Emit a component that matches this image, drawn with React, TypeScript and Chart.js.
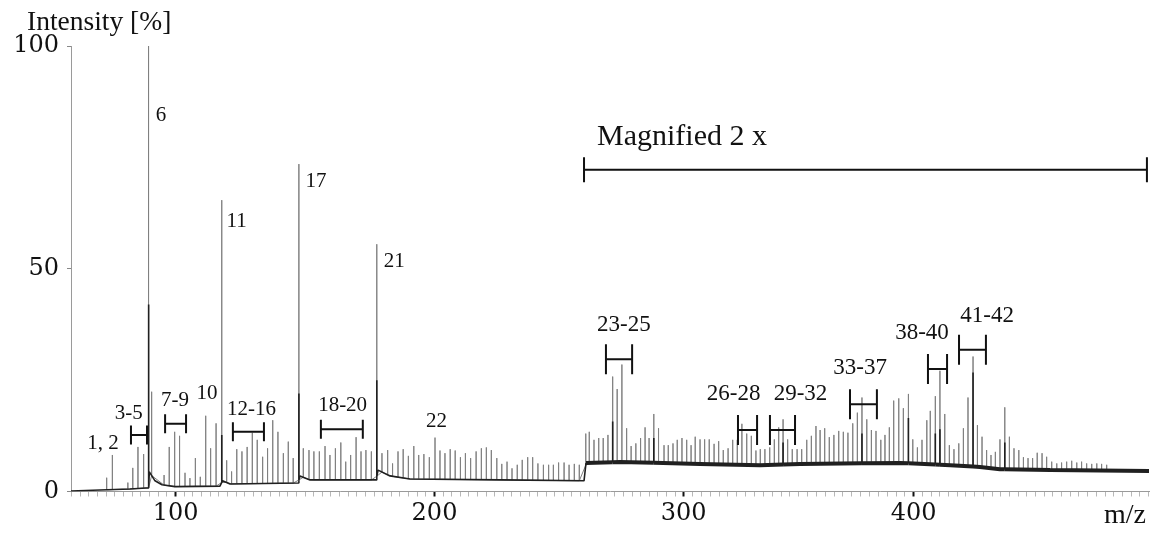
import React, { useEffect, useRef } from 'react';
import { Chart, registerables, LinearScale } from 'chart.js';

// ---------------- data ----------------
// gray spectrum: peak positions (m/z) and peak tops (%)
const PEAK_MZ = [
  73.3, 75.5, 81.5, 83.4, 85.4, 87.6, 89.5, 90.7, 95.5, 97.5, 99.6, 101.5, 103.6, 105.5, 107.6, 109.5,
  111.6, 113.5, 115.6, 117.8, 119.7, 121.6, 123.6, 125.6, 127.6, 129.6, 131.5, 133.6, 135.5, 137.5, 139.5,
  141.6, 143.5, 145.4, 147.6, 149.3, 151.5, 153.4, 155.5, 157.7, 159.6, 161.7, 163.8, 165.7, 167.6, 169.7,
  171.6, 173.5, 175.6, 177.7, 179.7, 181.9, 183.8, 185.9, 187.9, 189.9, 192.0, 193.9, 195.9, 198.0, 200.2,
  202.2, 204.2, 206.3, 208.3, 210.4, 212.4, 214.5, 216.7, 218.8, 220.8, 222.8, 225.0, 227.0, 229.1, 231.1,
  233.2, 235.2, 237.4, 239.4, 241.5, 243.7, 245.8, 247.7, 249.8, 252.0, 254.0, 256.1, 258.1,
  260.7, 262.1, 264.0, 265.9, 267.7, 269.6, 271.5, 273.3, 275.2, 277.1, 278.9, 280.8, 282.7, 284.5, 286.1,
  288.0, 289.9, 292.1, 293.8, 295.7, 297.4, 299.3, 301.3, 303.2, 305.0, 307.1, 309.1, 311.1, 313.2, 315.2,
  317.2, 319.3, 321.3, 323.3, 325.3, 327.4, 329.4, 331.4, 333.3, 335.3, 337.4, 339.4, 341.3, 343.2, 345.2,
  347.2, 349.3, 351.3, 353.5, 355.5, 357.5, 359.3, 361.3, 363.3, 365.3, 367.4, 369.4, 371.4, 373.5, 375.5,
  377.5, 379.6, 381.6, 383.6, 385.7, 387.5, 389.4, 391.3, 393.5, 395.5, 397.7, 399.6, 401.6, 403.6, 405.7,
  407.2, 409.4, 411.4, 413.5, 415.5, 417.5, 419.6, 421.6, 423.6, 425.8, 427.7, 429.7, 431.7, 433.6, 435.5,
  437.5, 439.6, 441.6, 443.6, 445.7, 447.7, 449.7, 451.7, 453.7, 455.8, 457.8, 460.0, 462.2, 464.3, 466.5,
  468.7, 470.9, 473.0, 475.2, 477.4, 479.6, 481.7, 483.9,
];
const PEAK_INTENSITY = [
  3.1, 8.2, 2.0, 5.3, 10.0, 8.4, 100, 22.4, 3.7, 10.0, 13.4, 12.5, 4.2, 3.0, 7.5, 3.3,
  17.0, 9.7, 15.3, 65.4, 7.0, 4.5, 9.5, 9.0, 10.0, 13.2, 11.6, 7.8, 9.7, 16.0, 13.4,
  8.6, 11.2, 7.5, 73.5, 9.7, 9.3, 9.0, 9.0, 10.2, 8.2, 9.7, 11.0, 6.7, 8.2, 12.2,
  9.0, 9.3, 9.0, 55.5, 8.6, 9.3, 6.3, 9.0, 9.5, 8.0, 10.2, 8.2, 8.4, 7.7, 12.1,
  9.2, 8.6, 9.5, 9.2, 7.7, 8.6, 7.5, 9.0, 9.7, 9.9, 9.3, 7.5, 6.2, 6.7, 5.2,
  6.0, 7.1, 7.7, 7.7, 6.3, 6.0, 6.0, 6.0, 6.5, 6.5, 6.0, 6.2, 6.0,
  13.0, 13.4, 11.6, 12.0, 12.0, 12.7, 25.8, 23.0, 28.5, 14.2, 10.2, 10.8, 12.0, 14.4, 12.0,
  17.4, 14.2, 10.4, 10.4, 10.8, 11.6, 12.0, 11.6, 10.4, 12.3, 11.7, 11.7, 11.7, 10.7, 11.3,
  9.3, 9.7, 11.6, 11.6, 15.2, 13.0, 12.5, 9.2, 9.5, 9.5, 9.9, 11.7, 14.4, 16.2, 11.7,
  9.5, 9.5, 9.5, 11.6, 12.5, 14.7, 13.8, 14.2, 12.2, 12.7, 13.6, 13.4, 13.2, 15.3, 17.7,
  21.1, 16.2, 13.8, 13.6, 11.6, 12.7, 14.4, 20.4, 20.9, 18.7, 21.9, 11.7, 9.9, 11.6, 16.0,
  18.1, 21.4, 27.1, 17.4, 10.4, 9.5, 10.8, 14.2, 21.1, 30.3, 14.9, 12.3, 9.3, 8.2, 8.9,
  11.7, 18.9, 12.3, 9.7, 9.3, 7.7, 7.5, 7.5, 8.7, 8.6, 7.8, 6.7, 6.3, 6.5, 6.7,
  6.9, 6.5, 6.7, 6.3, 6.2, 6.3, 6.2, 6.0,
];
// black spectrum: baseline profile and its own visible peaks
const BASELINE_MZ = [
  59.5, 70.7, 82.3, 88.5, 89.6, 89.8, 92.0, 94.7, 99.7, 117.1, 118.1, 121.0, 147.3, 148.0, 151.9, 177.4,
  178.2, 182.8, 190.5, 226.3, 260.0, 260.8, 274.4, 307.1, 333.2, 350.6, 394.1, 415.9, 428.8, 437.5, 459.3, 502.3,
];
const BASELINE_INTENSITY = [
  0.1, 0.35, 0.55, 0.8, 0.8, 4.4, 2.4, 1.5, 1.1, 1.2, 2.4, 1.7, 1.9, 3.5, 2.6, 2.6,
  4.8, 3.5, 2.8, 2.6, 2.4, 6.4, 6.6, 6.2, 5.9, 6.2, 6.4, 5.9, 5.5, 5.0, 4.8, 4.6,
];
const DARK_PEAK_MZ = [89.5, 117.8, 147.6, 177.7, 271.5, 288.0, 343.2, 377.5, 397.7, 409.4, 411.4, 425.8, 439.6];
const DARK_PEAK_INTENSITY = [42, 12.7, 22, 25, 15.7, 12, 11, 13, 16.5, 13, 14, 26.7, 11];

const X_TICK_LABELS = [100, 200, 300, 400];
const Y_TICK_VALUES = [0, 50, 100];
const X_TITLE = 'm/z';
const Y_TITLE = 'Intensity [%]';

const LABEL_TEXT = ['1, 2', '3-5', '6', '7-9', '10', '11', '12-16', '17', '18-20', '21', '22',
  '23-25', '26-28', '29-32', '33-37', '38-40', '41-42'];
const LABEL_MZ = [71.9, 81.8, 94.3, 99.7, 112.1, 123.5, 129.3, 154.2, 164.5, 184.4, 200.8,
  276.0, 321.7, 350.8, 376.7, 403.6, 431.9];
const LABEL_INTENSITY = [10.8, 17.5, 84.5, 20.5, 21.9, 60.7, 18.3, 69.5, 19.4, 51.7, 15.7,
  37.4, 22.0, 21.8, 27.8, 35.5, 39.5];

const BRACKET_FROM_MZ = [82.7, 95.9, 122.1, 156.1, 268.8, 323.6, 337.5, 372.3, 406.2, 419.7];
const BRACKET_TO_MZ = [88.9, 104.0, 134.1, 172.3, 279.3, 331.9, 348.4, 384.0, 414.5, 431.4];
const BRACKET_INTENSITY = [12.7, 15.2, 13.4, 14.0, 29.7, 13.8, 13.8, 19.6, 27.5, 31.8];

const MAGNIFIED_TEXT = 'Magnified 2 x';
const MAGNIFIED_FROM_MZ = 260.0;
const MAGNIFIED_TO_MZ = 501.4;
const MAGNIFIED_INTENSITY = 72.2;
const MAGNIFIED_TEXT_MZ = 265.2;
const MAGNIFIED_TEXT_INTENSITY = 79.6;

// ---------------- the figure's x axis is piecewise linear ----------------
const AXIS_BREAK_VALUES = [59.5, 100, 200, 300, 400, 502.3];
const AXIS_BREAK_FRACTIONS = [0, 0.09712, 0.3372, 0.56837, 0.78173, 1];
const MINOR_TICK_FRACTION = 0.00807;

function valueToFraction(v: number): number {
  const V = AXIS_BREAK_VALUES, F = AXIS_BREAK_FRACTIONS;
  let i = 0;
  while (i < V.length - 2 && v > V[i + 1]) i++;
  return F[i] + ((v - V[i]) * (F[i + 1] - F[i])) / (V[i + 1] - V[i]);
}
function fractionToValue(f: number): number {
  const V = AXIS_BREAK_VALUES, F = AXIS_BREAK_FRACTIONS;
  let i = 0;
  while (i < F.length - 2 && f > F[i + 1]) i++;
  return V[i] + ((f - F[i]) * (V[i + 1] - V[i])) / (F[i + 1] - F[i]);
}

class BrokenLinearScale extends LinearScale {
  static id = 'brokenLinear';
  static defaults = {};
  getPixelForValue(value: any) {
    if (value === null || value === undefined || isNaN(value)) return NaN;
    return this.getPixelForDecimal(valueToFraction(value));
  }
  getValueForPixel(pixel: number) {
    return fractionToValue(this.getDecimalForPixel(pixel));
  }
}

Chart.register(...registerables, BrokenLinearScale as any);

function baselineAt(mz: number): number {
  const M = BASELINE_MZ, B = BASELINE_INTENSITY;
  if (mz <= M[0]) return B[0];
  for (let i = 0; i < M.length - 1; i++) {
    if (mz <= M[i + 1]) return B[i] + ((mz - M[i]) * (B[i + 1] - B[i])) / (M[i + 1] - M[i]);
  }
  return B[B.length - 1];
}

function buildTicks() {
  const F = AXIS_BREAK_FRACTIONS;
  const majorF = X_TICK_LABELS.map(valueToFraction);
  const out: { value: number; major: boolean }[] = [];
  for (let f = majorF[0] - MINOR_TICK_FRACTION; f >= F[0] - 1e-6; f -= MINOR_TICK_FRACTION) {
    out.push({ value: fractionToValue(f), major: false });
  }
  for (let k = 0; k < majorF.length; k++) {
    out.push({ value: X_TICK_LABELS[k], major: true });
    if (k < majorF.length - 1) {
      const n = Math.round((majorF[k + 1] - majorF[k]) / MINOR_TICK_FRACTION);
      for (let j = 1; j < n; j++) {
        out.push({ value: fractionToValue(majorF[k] + ((majorF[k + 1] - majorF[k]) * j) / n), major: false });
      }
    }
  }
  for (let f = majorF[majorF.length - 1] + MINOR_TICK_FRACTION; f <= 1 + 1e-6; f += MINOR_TICK_FRACTION) {
    out.push({ value: fractionToValue(f), major: false });
  }
  out.sort((a, b) => a.value - b.value);
  return out;
}

function drawBracket(ctx: CanvasRenderingContext2D, x0: number, x1: number, y: number, half: number) {
  ctx.beginPath();
  ctx.moveTo(x0, y - half);
  ctx.lineTo(x0, y + half);
  ctx.moveTo(x0, y);
  ctx.lineTo(x1, y);
  ctx.moveTo(x1, y - half);
  ctx.lineTo(x1, y + half);
  ctx.stroke();
}

const annotationPlugin = {
  id: 'spectrumAnnotations',
  afterDraw(chart: any) {
    const { ctx, chartArea } = chart;
    const xs = chart.scales.x;
    const ys = chart.scales.y;
    ctx.save();
    ctx.fillStyle = '#111';
    ctx.strokeStyle = '#111';
    ctx.textAlign = 'center';
    ctx.textBaseline = 'middle';
    LABEL_TEXT.forEach((t, i) => {
      const size = LABEL_MZ[i] > 260 ? 23 : 21;
      ctx.font = `${size}px "Liberation Serif", serif`;
      ctx.fillText(t, xs.getPixelForValue(LABEL_MZ[i]), ys.getPixelForValue(LABEL_INTENSITY[i]));
    });
    ctx.lineWidth = 2;
    BRACKET_FROM_MZ.forEach((f, i) => {
      drawBracket(ctx, xs.getPixelForValue(f), xs.getPixelForValue(BRACKET_TO_MZ[i]),
        ys.getPixelForValue(BRACKET_INTENSITY[i]), f > 260 ? 15 : 9.5);
    });
    drawBracket(ctx, xs.getPixelForValue(MAGNIFIED_FROM_MZ), xs.getPixelForValue(MAGNIFIED_TO_MZ),
      ys.getPixelForValue(MAGNIFIED_INTENSITY), 12.5);
    ctx.textAlign = 'left';
    ctx.font = '30px "Liberation Serif", serif';
    ctx.fillText(MAGNIFIED_TEXT, xs.getPixelForValue(MAGNIFIED_TEXT_MZ), ys.getPixelForValue(MAGNIFIED_TEXT_INTENSITY));
    ctx.font = '27.5px "Liberation Serif", serif';
    ctx.fillText(Y_TITLE, chartArea.left - 44, chartArea.top - 23);
    ctx.textAlign = 'right';
    ctx.textBaseline = 'alphabetic';
    ctx.font = '28px "Liberation Serif", serif';
    ctx.fillText(X_TITLE, chartArea.right - 3, chartArea.bottom + 31);
    ctx.restore();
  },
};

export default function App() {
  const canvasRef = useRef<HTMLCanvasElement | null>(null);

  useEffect(() => {
    if (!canvasRef.current) return;

    const grayPoints: { x: number; y: number }[] = [];
    PEAK_MZ.forEach((m, i) => {
      const b = baselineAt(m);
      grayPoints.push({ x: m, y: b }, { x: m, y: PEAK_INTENSITY[i] }, { x: m, y: b });
    });

    const blackPoints: { x: number; y: number }[] = BASELINE_MZ.map((m, i) => ({ x: m, y: BASELINE_INTENSITY[i] }));
    DARK_PEAK_MZ.forEach((m, i) => {
      const b = baselineAt(m);
      blackPoints.push({ x: m, y: b }, { x: m, y: DARK_PEAK_INTENSITY[i] }, { x: m, y: b });
    });
    blackPoints.sort((a, b) => a.x - b.x);

    const chart = new Chart(canvasRef.current, {
      type: 'line',
      data: {
        datasets: [
          {
            data: blackPoints,
            borderColor: '#202020',
            borderWidth: 1.6,
            borderJoinStyle: 'bevel',
            pointRadius: 0,
            tension: 0,
            segment: {
              borderWidth: (c: any) =>
                c.p0.parsed.x >= 260.5 && c.p0.parsed.x !== c.p1.parsed.x ? 4 : 1.6,
            },
          } as any,
          {
            data: grayPoints,
            borderColor: '#808080',
            borderWidth: 1,
            borderJoinStyle: 'bevel',
            pointRadius: 0,
            tension: 0,
          },
        ],
      },
      options: {
        animation: false,
        responsive: false,
        maintainAspectRatio: false,
        devicePixelRatio: 1,
        layout: { padding: { top: 46, right: 5, left: 0, bottom: 0 } },
        plugins: { legend: { display: false }, tooltip: { enabled: false } },
        events: [],
        scales: {
          x: {
            type: 'brokenLinear' as any,
            min: AXIS_BREAK_VALUES[0],
            max: AXIS_BREAK_VALUES[AXIS_BREAK_VALUES.length - 1],
            afterBuildTicks: (scale: any) => {
              scale.ticks = buildTicks();
            },
            afterFit: (scale: any) => {
              scale.height = 41.5;
            },
            border: { color: '#9a9a9a', width: 1 },
            grid: {
              drawOnChartArea: false,
              drawTicks: true,
              tickLength: 5,
              tickColor: (c: any) => (c.tick && c.tick.major ? '#111' : '#b8b8b8'),
              tickWidth: (c: any) => (c.tick && c.tick.major ? 2 : 1),
            },
            ticks: {
              autoSkip: false,
              maxRotation: 0,
              padding: 3,
              color: '#111',
              font: { family: '"DejaVu Serif", serif', size: 24 },
              callback: (v: any, i: number, ticks: any[]) => (ticks[i] && ticks[i].major ? String(ticks[i].value) : ''),
            },
          } as any,
          y: {
            type: 'linear',
            min: 0,
            max: 100,
            afterBuildTicks: (scale: any) => {
              scale.ticks = Y_TICK_VALUES.map((v) => ({ value: v }));
            },
            afterFit: (scale: any) => {
              scale.width = 71;
            },
            border: { color: '#9a9a9a', width: 1 },
            grid: { drawOnChartArea: false, drawTicks: true, tickLength: 4, tickColor: '#888' },
            ticks: {
              padding: 8,
              color: '#111',
              font: { family: '"DejaVu Serif", serif', size: 24 },
            },
          },
        },
      },
      plugins: [annotationPlugin],
    });

    return () => chart.destroy();
  }, []);

  return (
    <div style={{ position: 'absolute', left: 0, top: 0, width: 1154, height: 533, background: '#fff' }}>
      <canvas ref={canvasRef} width={1154} height={533} style={{ display: 'block' }} />
    </div>
  );
}
